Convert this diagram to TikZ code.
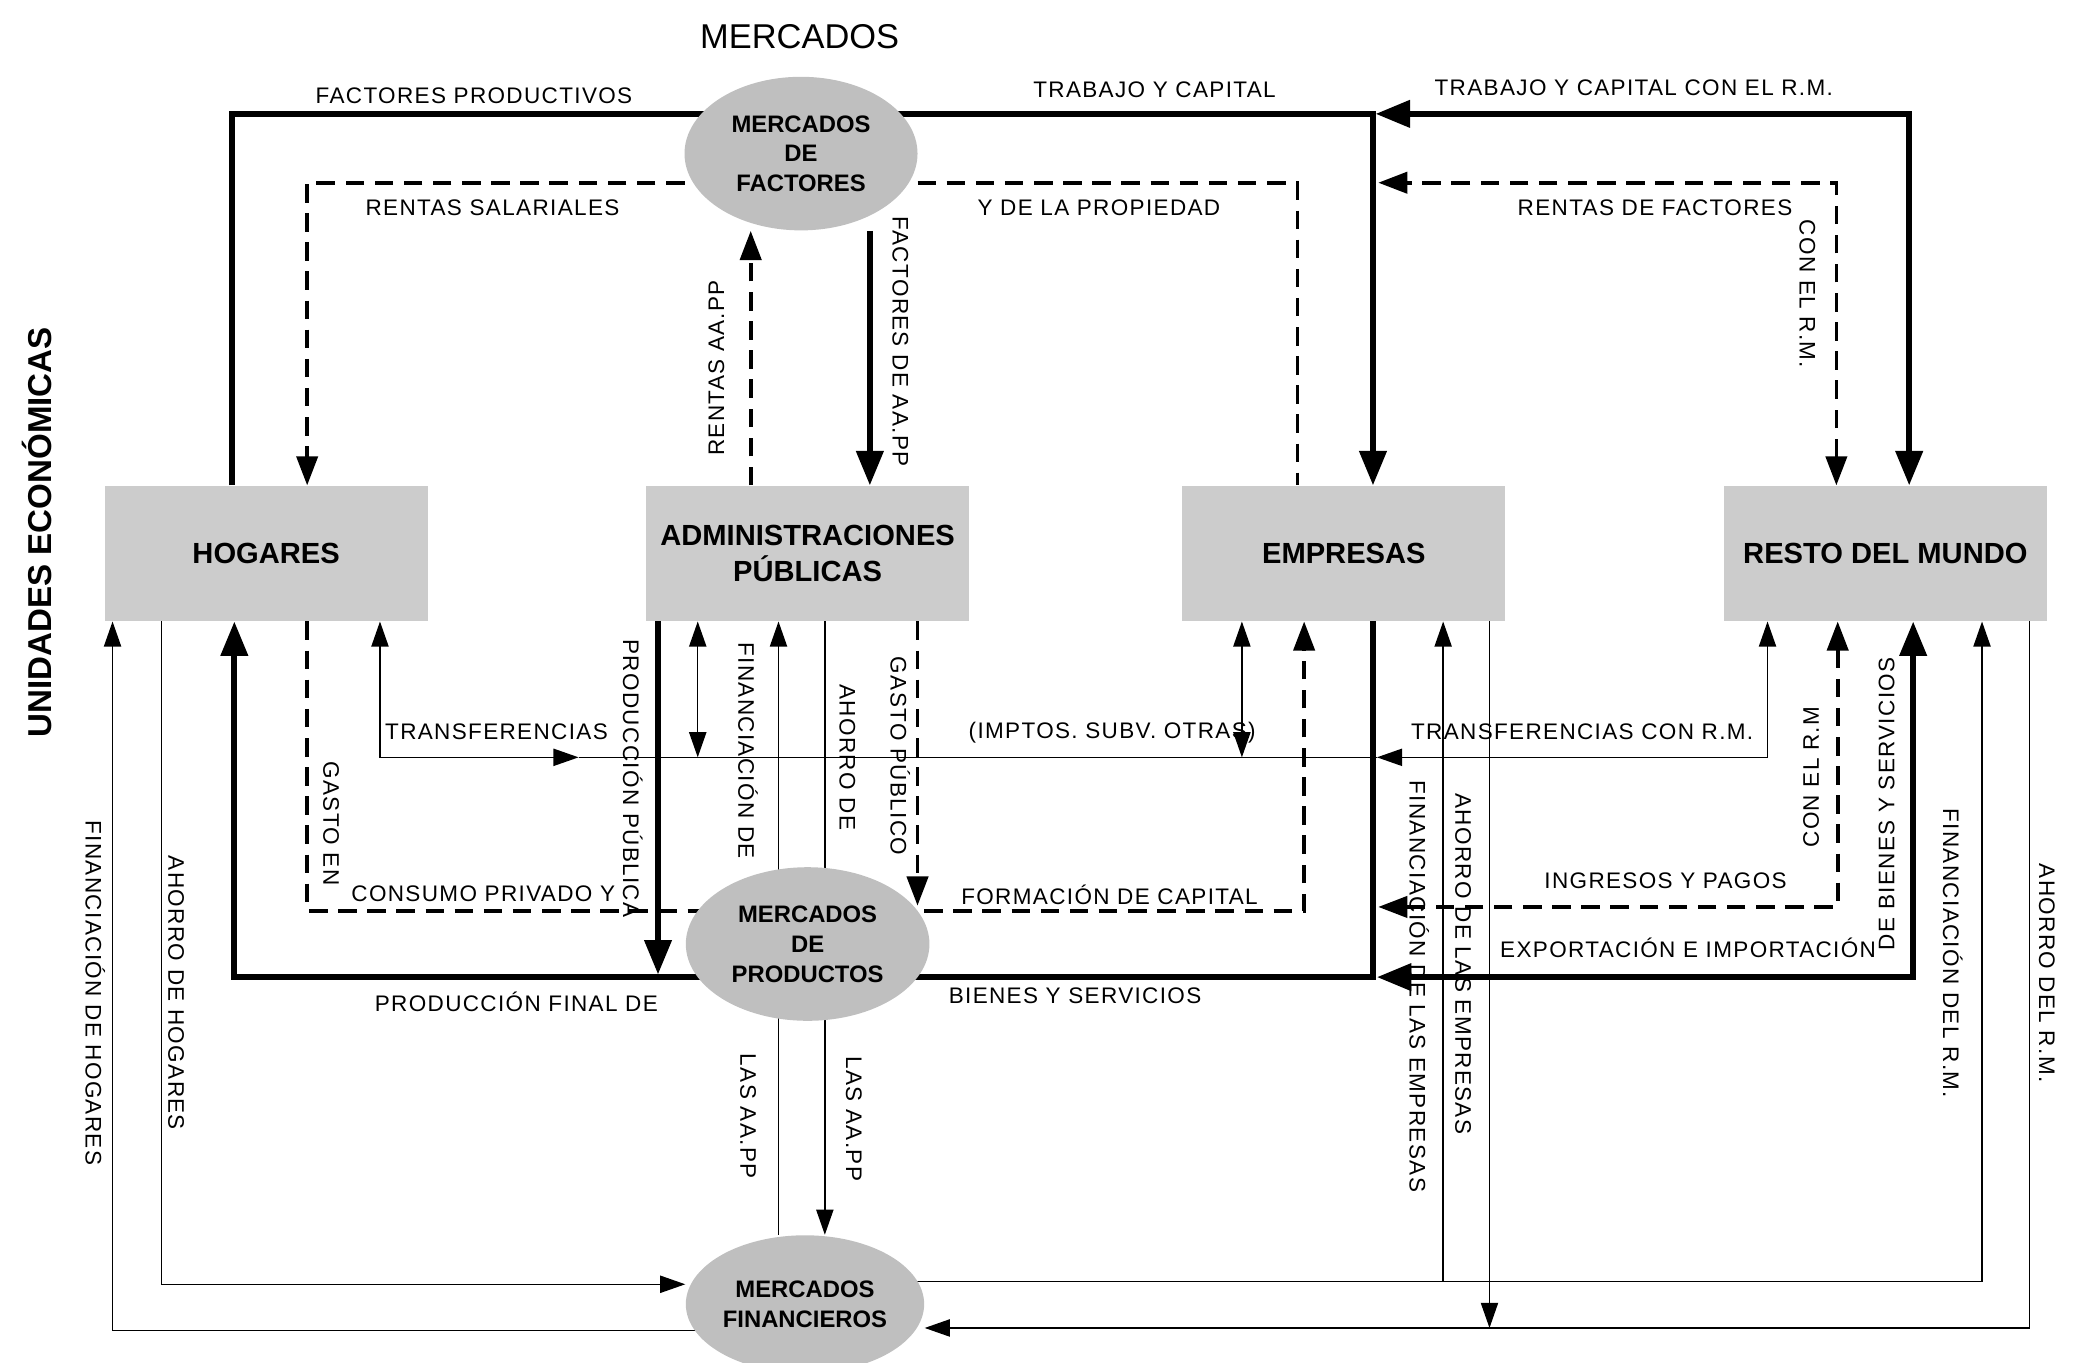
\documentclass[tikz,border=0pt]{standalone}
\usepackage{fontspec}
\setmainfont{Liberation Sans}
\newfontfamily\lblfont[LetterSpace=6]{Liberation Sans}
\usetikzlibrary{arrows.meta,shapes.geometric}
\pgfdeclarelayer{fg}
\pgfsetlayers{main,fg}
\tikzset{
  tipL/.tip={Triangle[length=13pt,width=10pt]},
  tipM/.tip={Triangle[length=11pt,width=8pt]},
  tipS/.tip={Triangle[length=9.5pt,width=6.5pt]},
  fthick/.style={line width=2.2pt},
  fthin/.style={line width=0.55pt},
  fdash/.style={line width=1.4pt, dash pattern=on 7pt off 4pt},
  ubox/.style={rectangle, fill=black!20, minimum width=122pt, minimum height=51pt, inner sep=0pt, font=\bfseries\fontsize{11}{13.5}\selectfont, align=center},
  mkt/.style={ellipse, fill=black!25, minimum width=88pt, minimum height=58pt, inner sep=0pt, font=\bfseries\fontsize{9}{11.25}\selectfont, align=center},
  lbl/.style={font=\lblfont\fontsize{8.5}{10}\selectfont, inner sep=1pt},
  vdn/.style={lbl, rotate=-90},
  vup/.style={lbl, rotate=90},
}
\begin{document}
\begin{tikzpicture}[x=0.5pt,y=-0.5pt]
\useasboundingbox (0,0) rectangle (1568,1029);

\begin{pgfonlayer}{fg}
\node[ubox] (hog) at (201,418) {HOGARES};
\node[ubox] (adm) at (610,418) {ADMINISTRACIONES\\PÚBLICAS};
\node[ubox] (emp) at (1015,418) {EMPRESAS};
\node[ubox] (rm) at (1424,418) {RESTO DEL MUNDO};
\node[mkt] (fac) at (605,116) {MERCADOS\\DE\\FACTORES};
\node[mkt, minimum width=92pt] (prod) at (610,713) {MERCADOS\\DE\\PRODUCTOS};
\node[mkt, minimum width=90pt, minimum height=52pt] (fin) at (608,985) {MERCADOS\\FINANCIEROS};
\end{pgfonlayer}

% titles
\node[font=\fontsize{13}{15}\selectfont] (t1) at (604,28) {MERCADOS};
\node[font=\bfseries\fontsize{12.5}{15}\selectfont, rotate=90] (t2) at (28,402) {UNIDADES ECONÓMICAS};

% top flows
\draw[fthick] (175,0 |- hog.north) -- (175,86) -- (fac.center |- 0,86);
\draw[fthick,-tipL] (fac.center |- 0,86) -- (1037,86) -- (1037,0 |- emp.north);
\draw[fthick,tipL-tipL] (1442,0 |- rm.north) -- (1442,86) -- (1039,86);
\draw[fdash,-tipM] (fac.center |- 0,138) -- (232,138) -- (232,0 |- hog.north);
\draw[fdash] (fac.center |- 0,138) -- (980,138) -- (980,0 |- emp.north);
\draw[fdash,tipM-tipM] (1387,0 |- rm.north) -- (1387,138) -- (1041,138);
\draw[fdash,-tipM] (567,0 |- adm.north) -- (567,0 |- fac.south);
\draw[fthick,-tipL] (657,0 |- fac.south) -- (657,0 |- adm.north);

% transfers
\coordinate (trR) at (437,572);
\coordinate (trL) at (1040,572);
\draw[fthin,tipS-tipS] (287,0 |- hog.south) -- (287,572) -- (trR);
\draw[fthin] (trR) -- (trL);
\draw[fthin,tipS-tipS] (1335,0 |- rm.south) -- (1335,572) -- (trL);
\draw[fthin,tipS-tipS] (527,0 |- adm.south) -- (527,572);
\draw[fthin,tipS-tipS] (938,0 |- emp.south) -- (938,572);

% public administration
\draw[fthick,-tipL] (497,0 |- adm.south) -- (497,736);
\draw[fthin,-tipS] (588,0 |- fin.north) -- (588,0 |- adm.south);
\draw[fthin,-tipS] (623,0 |- adm.south) -- (623,0 |- fin.north);
\draw[fdash,-tipM] (693,0 |- adm.south) -- (693,684);

% consumption / capital formation
\draw[fdash] (232,0 |- hog.south) -- (232,688) -- (prod.center |- 0,688);
\draw[fdash,-tipM] (prod.center |- 0,688) -- (985,688) -- (985,0 |- emp.south);

% production
\draw[fthick,-tipL] (prod.center |- 0,738) -- (177,738) -- (177,0 |- hog.south);
\draw[fthick] (1037,0 |- emp.south) -- (1037,738) -- (prod.center |- 0,738);
\draw[fthick,tipL-tipL] (1445,0 |- rm.south) -- (1445,738) -- (1040,738);
\draw[fdash,tipM-tipM] (1388,0 |- rm.south) -- (1388,685) -- (1041,685);

% financial flows
\draw[fthin,-tipS] (fin.center |- 0,1005) -- (85,1005) -- (85,0 |- hog.south);
\draw[fthin,-tipS] (122,0 |- hog.south) -- (122,970) -- (fin.west |- 0,970);
\draw[fthin,-tipS] (fin.center |- 0,968) -- (1497,968) -- (1497,0 |- rm.south);
\coordinate (fe) at (1090,968);
\draw[fthin,-tipS] (fe) -- (1090,0 |- emp.south);
\draw[fthin,-tipS] (1533,0 |- rm.south) -- (1533,1003) -- (fin.east |- 0,1003);
\coordinate (ae) at (1125,1003);
\draw[fthin,-tipS] (1125,0 |- emp.south) -- (ae);

% labels
\node[lbl] (l1) at (358,72) {FACTORES PRODUCTIVOS};
\node[lbl] (l2) at (872,68) {TRABAJO Y CAPITAL};
\node[lbl] (l3) at (1234,66) {TRABAJO Y CAPITAL CON EL R.M.};
\node[lbl] (l4) at (372,157) {RENTAS SALARIALES};
\node[lbl] (l5) at (830,157) {Y DE LA PROPIEDAD};
\node[lbl] (l6) at (1250,157) {RENTAS DE FACTORES};
\node[vdn] (l7) at (1365,222) {CON EL R.M.};
\node[vup] (l8) at (541,278) {RENTAS AA.PP};
\node[vdn] (l9) at (680,258) {FACTORES DE AA.PP};
\node[lbl] (l10) at (375,553) {TRANSFERENCIAS};
\node[lbl] (l11) at (840,553) {(IMPTOS. SUBV. OTRAS)};
\node[lbl] (l12) at (1195,553) {TRANSFERENCIAS CON R.M.};
\node[vdn] (l13) at (250,622) {GASTO EN};
\node[vdn] (l14) at (478,588) {PRODUCCIÓN PÚBLICA};
\node[vdn] (l15) at (565,567) {FINANCIACIÓN DE};
\node[vdn] (l16) at (640,572) {AHORRO DE};
\node[vdn] (l17) at (680,571) {GASTO PÚBLICO};
\node[lbl] (l18) at (365,675) {CONSUMO PRIVADO Y};
\node[lbl] (l19) at (838,676) {FORMACIÓN DE CAPITAL};
\node[lbl] (l20) at (1258,665) {INGRESOS Y PAGOS};
\node[vup] (l21) at (1368,587) {CON EL R.M};
\node[vup] (l22) at (1425,607) {DE BIENES Y SERVICIOS};
\node[lbl] (l23) at (1275,716) {EXPORTACIÓN E IMPORTACIÓN};
\node[lbl] (l24) at (390,757) {PRODUCCIÓN FINAL DE};
\node[lbl] (l25) at (812,752) {BIENES Y SERVICIOS};
\node[vdn] (l26) at (565,843) {LAS AA.PP};
\node[vdn] (l27) at (645,845) {LAS AA.PP};
\node[vdn] (l28) at (72,750) {FINANCIACIÓN DE HOGARES};
\node[vdn] (l29) at (133,750) {AHORRO DE HOGARES};
\node[vdn] (l30) at (1072,745) {FINANCIACIÓN DE LAS EMPRESAS};
\node[vdn] (l31) at (1105,728) {AHORRO DE LAS EMPRESAS};
\node[vdn] (l32) at (1475,720) {FINANCIACIÓN DEL R.M.};
\node[vdn] (l33) at (1546,735) {AHORRO DEL R.M.};
\end{tikzpicture}
\end{document}
